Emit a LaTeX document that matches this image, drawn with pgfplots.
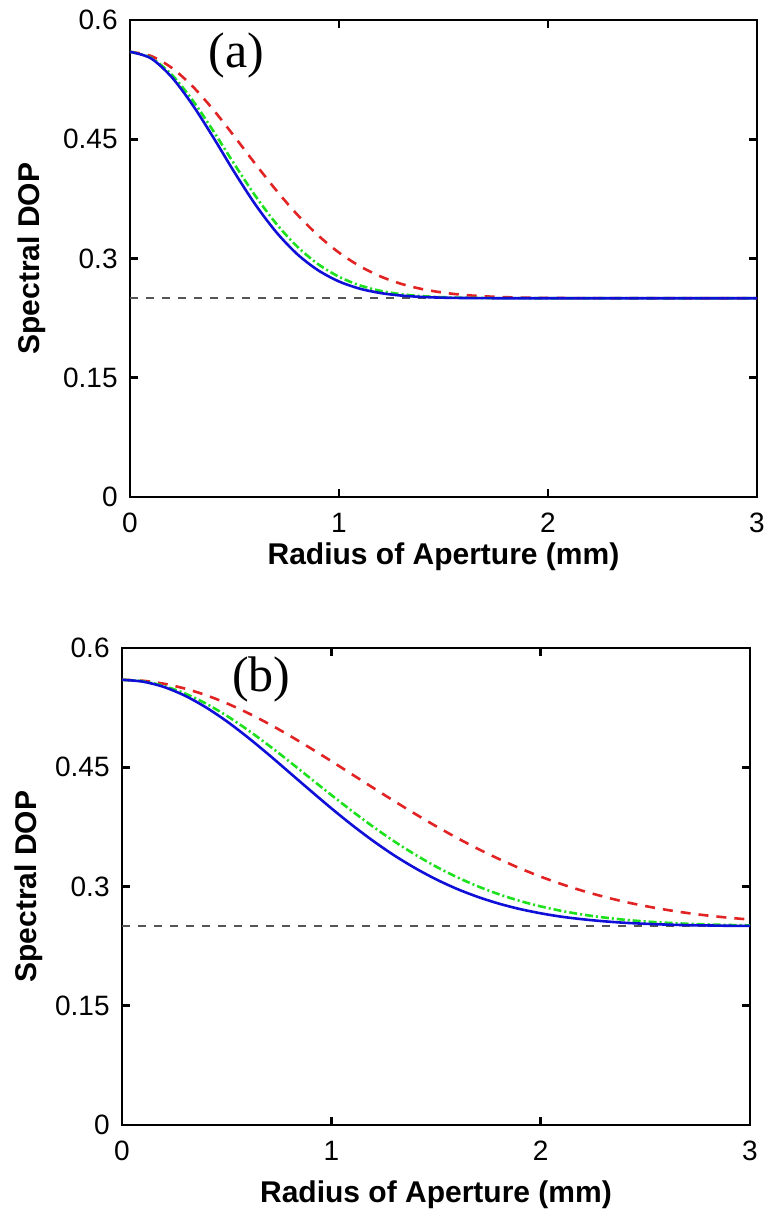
\documentclass[border=0pt]{standalone}
\usepackage{pgfplots}
\pgfplotsset{compat=1.18}
\usepackage{fontspec}
\setmainfont{Liberation Sans}
\newfontfamily\timesfont{Liberation Serif}
\definecolor{cblue}{RGB}{15,15,215}
\definecolor{cgreen}{RGB}{30,225,30}
\definecolor{cred}{RGB}{225,35,35}
\definecolor{cgray}{RGB}{85,85,85}

\pgfplotsset{
  panel/.style={
    scale only axis, height=238.5pt,
    xmin=0, xmax=3, ymin=0, ymax=0.6,
    xtick={0,1,2,3}, xticklabels={0,1,2,3},
    ytick={0,0.15,0.3,0.45,0.6}, yticklabels={0,0.15,0.3,0.45,0.6},
    tick align=inside, tick pos=both, major tick length=4pt,
    axis line style={line width=1.3pt},
    every tick/.style={black, line width=1.3pt},
    tick label style={font=\fontsize{14}{14}\selectfont},
    xticklabel style={anchor=center, yshift=-13pt},
    yticklabel style={anchor=east, inner sep=0pt, xshift=-6pt},
    xlabel={Radius of Aperture (mm)}, ylabel={Spectral DOP},
    clip=true,
  },
  blueline/.style={cblue, line width=1.3pt, smooth},
  greenline/.style={cgreen, line width=1.3pt, smooth, dash pattern=on 4pt off 1.5pt on 1pt off 1.5pt},
  redline/.style={cred, line width=1.3pt, smooth, dash pattern=on 5pt off 4pt},
  grayline/.style={cgray, line width=0.8pt, dash pattern=on 4pt off 4pt},
}

\begin{document}
\begin{tikzpicture}
\useasboundingbox (0,0) rectangle (382.5pt,-610pt);

% ---------- panel (a) ----------
\begin{axis}[panel, width=313.5pt, at={(65pt,-10pt)}, anchor=north west,
  every axis y label/.style={at={(axis description cs:-0.157,0.5)}, rotate=90, anchor=center,
    font=\bfseries\fontsize{15}{15}\selectfont},
  every axis x label/.style={at={(axis description cs:0.5,-0.126)}, anchor=center, inner sep=0pt,
    font=\bfseries\fontsize{15}{15}\selectfont}]
\addplot[grayline] coordinates {(0,0.25) (3,0.25)};
\addplot[redline] coordinates {
(0,0.560) (0.1,0.5548) (0.2,0.5398) (0.3,0.5164) (0.4,0.4867) (0.5,0.4533)
(0.6,0.4189) (0.7,0.3857) (0.8,0.3553) (0.9,0.3291) (1.0,0.3074) (1.1,0.2903)
(1.2,0.2773) (1.3,0.2679) (1.4,0.2614) (1.5,0.2570) (1.6,0.2541) (1.7,0.2524)
(1.8,0.2513) (1.9,0.2507) (2.0,0.2504) (2.2,0.2501) (2.6,0.2500) (3.0,0.2500)};
\addplot[greenline] coordinates {
(0,0.560) (0.1,0.5525) (0.2,0.5311) (0.3,0.4989) (0.4,0.4598) (0.5,0.4184)
(0.6,0.3787) (0.7,0.3437) (0.8,0.3150) (0.9,0.2929) (1.0,0.2770) (1.1,0.2662)
(1.2,0.2592) (1.3,0.2550) (1.4,0.2526) (1.5,0.2513) (1.6,0.2506) (1.7,0.2503)
(1.8,0.2501) (2.2,0.2500) (2.6,0.2500) (3.0,0.2500)};
\addplot[blueline] coordinates {
(0,0.560) (0.1,0.5518) (0.2,0.5280) (0.3,0.4930) (0.4,0.4517) (0.5,0.4083)
(0.6,0.3678) (0.7,0.3331) (0.8,0.3055) (0.9,0.2852) (1.0,0.2711) (1.1,0.2620)
(1.2,0.2565) (1.3,0.2533) (1.4,0.2516) (1.5,0.2507) (1.6,0.2503) (1.8,0.2500)
(2.2,0.2500) (2.6,0.2500) (3.0,0.2500)};
\node[font=\timesfont\fontsize{25}{25}\selectfont] at (axis cs:0.51,0.556) {(a)};
\end{axis}

% ---------- panel (b) ----------
\begin{axis}[panel, width=314pt, at={(61pt,-324pt)}, anchor=north west,
  every axis y label/.style={at={(axis description cs:-0.149,0.5)}, rotate=90, anchor=center,
    font=\bfseries\fontsize{15}{15}\selectfont},
  every axis x label/.style={at={(axis description cs:0.5,-0.147)}, anchor=center, inner sep=0pt,
    font=\bfseries\fontsize{15}{15}\selectfont}]
\addplot[grayline] coordinates {(0,0.25) (3,0.25)};
\addplot[redline] coordinates {
(0,0.560) (0.1,0.5588) (0.2,0.5551) (0.3,0.5490) (0.4,0.5408) (0.5,0.5305)
(0.6,0.5184) (0.7,0.5048) (0.8,0.4899) (0.9,0.4741) (1.0,0.4577) (1.1,0.4409)
(1.2,0.4241) (1.3,0.4075) (1.4,0.3914) (1.5,0.3759) (1.6,0.3612) (1.7,0.3474)
(1.8,0.3347) (1.9,0.3230) (2.0,0.3124) (2.1,0.3030) (2.2,0.2946) (2.3,0.2873)
(2.4,0.2808) (2.5,0.2754) (2.6,0.2707) (2.7,0.2667) (2.8,0.2634) (2.9,0.2607)
(3.0,0.2584)};
\addplot[greenline] coordinates {
(0,0.560) (0.1,0.5581) (0.2,0.5523) (0.3,0.5429) (0.4,0.5303) (0.5,0.5148)
(0.6,0.4971) (0.7,0.4777) (0.8,0.4572) (0.9,0.4361) (1.0,0.4151) (1.1,0.3947)
(1.2,0.3751) (1.3,0.3569) (1.4,0.3402) (1.5,0.3251) (1.6,0.3118) (1.7,0.3002)
(1.8,0.2903) (1.9,0.2819) (2.0,0.2750) (2.1,0.2693) (2.2,0.2647) (2.3,0.2611)
(2.4,0.2582) (2.5,0.2560) (2.6,0.2544) (2.7,0.2531) (2.8,0.2522) (2.9,0.2516)
(3.0,0.2511)};
\addplot[blueline] coordinates {
(0,0.560) (0.1,0.5577) (0.2,0.5510) (0.3,0.5401) (0.4,0.5255) (0.5,0.5079)
(0.6,0.4878) (0.7,0.4661) (0.8,0.4434) (0.9,0.4207) (1.0,0.3984) (1.1,0.3771)
(1.2,0.3573) (1.3,0.3392) (1.4,0.3232) (1.5,0.3091) (1.6,0.2970) (1.7,0.2869)
(1.8,0.2785) (1.9,0.2717) (2.0,0.2663) (2.1,0.2620) (2.2,0.2588) (2.3,0.2563)
(2.4,0.2544) (2.5,0.2531) (2.6,0.2521) (2.7,0.2514) (2.8,0.2510) (2.9,0.2506)
(3.0,0.2504)};
\node[font=\timesfont\fontsize{25}{25}\selectfont] at (axis cs:0.665,0.56) {(b)};
\end{axis}
\end{tikzpicture}
\end{document}
